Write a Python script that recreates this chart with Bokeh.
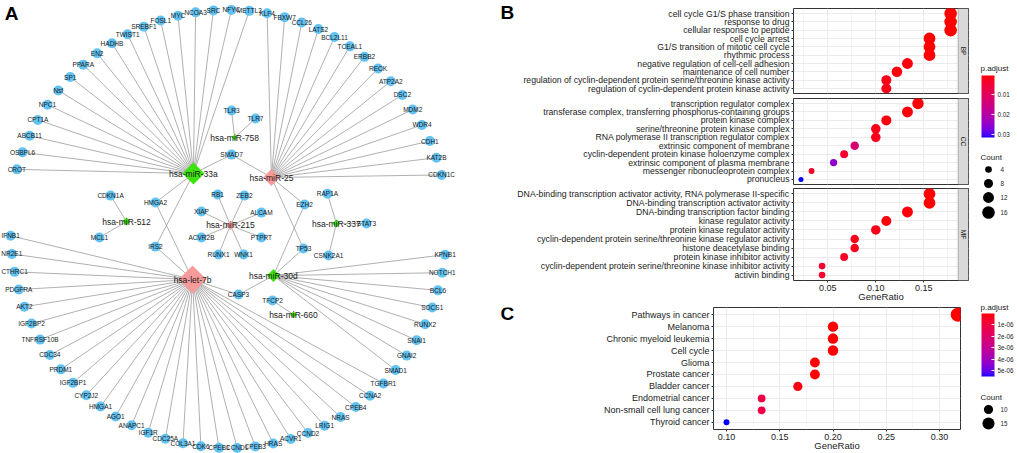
import math
from bokeh.plotting import figure
from bokeh.models import (ColumnDataSource, Range1d, FactorRange, FixedTicker, CategoricalTicker,
                          LinearColorMapper, ColorBar, BoxAnnotation, Label, Grid,
                          CustomJSTickFormatter)
from bokeh.layouts import row, column
from bokeh.embed import file_html
from bokeh.resources import INLINE
from bokeh.core.properties import value
from bokeh.transform import transform

FONT = "Liberation Sans"

# ======================= DATA =======================
# ---- Panel A: miRNA-target network ----
mirnas = ["hsa-miR-33a", "hsa-miR-25", "hsa-let-7b", "hsa-miR-30d", "hsa-miR-758",
          "hsa-miR-512", "hsa-miR-215", "hsa-miR-337", "hsa-miR-660"]
mirna_group = ["green", "pink", "pink", "green", "green", "green", "pink", "green", "green"]

targets_miR33a_outer = ["CROT", "OSBPL6", "ABCB11", "CPT1A", "NPC1", "Nsf", "SP1", "PPARA", "EN2",
                        "HADHB", "TWIST1", "SREBF1", "FOSL1", "MYC", "NCOA3", "SRC", "NFYC", "METTL3"]
targets_miR25_outer = ["KLF4", "FBXW7", "CCL26", "LATS2", "BCL2L11", "TCEAL1", "ERBB2", "RECK",
                       "ATP2A2", "DSC2", "MDM2", "WDR4", "CDH1", "KAT2B", "CDKN1C"]
targets_let7b_outer = ["IFNB1", "NR2E1", "CTHRC1", "PDGFRA", "AKT2", "IGF2BP2", "TNFRSF10B", "CDC34",
                       "PRDM1", "IGF2BP1", "CYP2J2", "HMGA1", "AGO1", "ANAPC1", "IGF1R", "CDC25A",
                       "COL3A1", "CDK6", "CPEB1", "CCND1", "CPEB3", "HRAS", "ACVR1", "CCND2",
                       "LRIG1", "NRAS", "CPEB4", "CCNA2", "TGFBR1"]
targets_miR30d_outer = ["SMAD1", "GNAI2", "SNAI1", "RUNX2", "SOCS1", "BCL6", "NOTCH1", "KPNB1"]
targets_miR33a_inner = ["SMAD7", "HMGA2", "IRS2"]
targets_miR25_inner = ["SMAD7", "EZH2", "TP53"]
targets_let7b_inner = ["HMGA2", "IRS2", "CASP3"]
targets_miR30d_inner = ["EZH2", "TP53", "CASP3"]
targets_miR758 = ["TLR3", "TLR7"]
targets_miR512 = ["CDKN1A", "MCL1"]
targets_miR215 = ["RB1", "ZEB2", "XIAP", "ALCAM", "ACVR2B", "PTPRT", "RUNX1", "WNK1"]
targets_miR337 = ["RAP1A", "STAT3", "CSNK2A1"]
targets_miR660 = ["TFCP2"]

# ---- Panel B: GO enrichment ----
bp_terms = ["cell cycle G1/S phase transition", "response to drug", "cellular response to peptide",
            "cell cycle arrest", "G1/S transition of mitotic cell cycle", "rhythmic process",
            "negative regulation of cell-cell adhesion", "maintenance of cell number",
            "regulation of cyclin-dependent protein serine/threonine kinase activity",
            "regulation of cyclin-dependent protein kinase activity"]
bp_ratio = [0.178, 0.178, 0.178, 0.156, 0.156, 0.156, 0.133, 0.122, 0.111, 0.111]
bp_count = [16, 16, 16, 14, 14, 14, 12, 11, 10, 10]
bp_padj = [0.0003, 0.0003, 0.0004, 0.0005, 0.0005, 0.0006, 0.0010, 0.0010, 0.0020, 0.0020]

cc_terms = ["transcription regulator complex",
            "transferase complex, transferring phosphorus-containing groups",
            "protein kinase complex", "serine/threonine protein kinase complex",
            "RNA polymerase II transcription regulator complex", "extrinsic component of membrane",
            "cyclin-dependent protein kinase holoenzyme complex",
            "extrinsic component of plasma membrane", "messenger ribonucleoprotein complex",
            "pronucleus"]
cc_ratio = [0.144, 0.133, 0.111, 0.100, 0.100, 0.078, 0.067, 0.056, 0.033, 0.022]
cc_count = [13, 12, 10, 9, 9, 7, 6, 5, 3, 2]
cc_padj = [0.0008, 0.0010, 0.0010, 0.0020, 0.0020, 0.0130, 0.0040, 0.0250, 0.0030, 0.0316]

mf_terms = ["DNA-binding transcription activator activity, RNA polymerase II-specific",
            "DNA-binding transcription activator activity", "DNA-binding transcription factor binding",
            "kinase regulator activity", "protein kinase regulator activity",
            "cyclin-dependent protein serine/threonine kinase regulator activity",
            "histone deacetylase binding", "protein kinase inhibitor activity",
            "cyclin-dependent protein serine/threonine kinase inhibitor activity", "activin binding"]
mf_ratio = [0.156, 0.156, 0.133, 0.111, 0.100, 0.078, 0.078, 0.067, 0.044, 0.044]
mf_count = [14, 14, 12, 10, 9, 7, 7, 6, 4, 4]
mf_padj = [0.0005, 0.0005, 0.0010, 0.0010, 0.0020, 0.0020, 0.0020, 0.0030, 0.0040, 0.0040]

go_x_ticks = [0.05, 0.10, 0.15]
go_padj_ticks = [0.01, 0.02, 0.03]
go_count_breaks = [4, 8, 12, 16]

# ---- Panel C: KEGG enrichment ----
kegg_terms = ["Pathways in cancer", "Melanoma", "Chronic myeloid leukemia", "Cell cycle", "Glioma",
              "Prostate cancer", "Bladder cancer", "Endometrial cancer",
              "Non-small cell lung cancer", "Thyroid cancer"]
kegg_ratio = [0.317, 0.200, 0.200, 0.200, 0.183, 0.183, 0.167, 0.133, 0.133, 0.100]
kegg_count = [19, 12, 12, 12, 11, 11, 10, 8, 8, 6]
kegg_padj = [1e-9, 2e-8, 2e-8, 3e-8, 4e-8, 4e-8, 1.5e-7, 1.1e-6, 1.1e-6, 5.5e-6]
kegg_x_ticks = [0.10, 0.15, 0.20, 0.25, 0.30]
kegg_padj_ticks = [1e-6, 2e-6, 3e-6, 4e-6, 5e-6]
kegg_count_breaks = [10, 15]

# ======================= STYLE / LAYOUT =======================
BLUE_NODE = "#62c2f2"
MIR_COLORS = {"green": "#3ee20c", "pink": "#f79a9a"}
MIR_DIAG = {"hsa-miR-33a": 22, "hsa-miR-25": 17, "hsa-let-7b": 28, "hsa-miR-30d": 13,
            "hsa-miR-758": 6, "hsa-miR-512": 8, "hsa-miR-215": 9, "hsa-miR-337": 8, "hsa-miR-660": 7}
TXT = "#1a1a1a"
BORDER = "#333333"
GRIDC = "#EBEBEB"

# network layout (outer ring radius ~100)
inner_pos = {
    "hsa-miR-33a": (-16.1, 25.9), "hsa-miR-25": (19.7, 24.1), "hsa-let-7b": (-16.5, -22.7),
    "hsa-miR-30d": (20.6, -20.9), "hsa-miR-758": (2.8, 42.4), "TLR3": (1.4, 54.8),
    "TLR7": (12.4, 51.2), "SMAD7": (1.4, 34.6), "hsa-miR-512": (-46.8, 3.9),
    "CDKN1A": (-54.1, 15.8), "MCL1": (-59.2, -3.4), "hsa-miR-215": (0.9, 2.1),
    "RB1": (-5.0, 16.3), "ZEB2": (7.3, 15.8), "XIAP": (-12.4, 8.5), "ALCAM": (15.1, 8.0),
    "ACVR2B": (-12.4, -3.4), "PTPRT": (15.1, -3.4), "RUNX1": (-4.6, -11.2), "WNK1": (6.9, -11.2),
    "HMGA2": (-33.5, 12.6), "IRS2": (-33.5, -7.6), "EZH2": (34.9, 11.7), "TP53": (34.4, -8.5),
    "CASP3": (4.6, -29.6), "hsa-miR-337": (49.5, 3.0), "RAP1A": (45.4, 16.7),
    "STAT3": (63.3, 3.0), "CSNK2A1": (45.9, -11.7), "hsa-miR-660": (29.8, -38.8),
    "TFCP2": (20.2, -32.3),
}
pos = dict(inner_pos)


def place_arc(names, a0, a1, r):
    n = len(names)
    for i, nm in enumerate(names):
        a = math.radians(a0 + (a1 - a0) * i / (n - 1))
        pos[nm] = (r * math.cos(a), r * math.sin(a))


place_arc(targets_miR33a_outer + targets_miR25_outer, 164.0, 14.5, 101.0)
place_arc(targets_let7b_outer + targets_miR30d_outer, 181.5, 353.5, 100.0)

edge_groups = [
    ("hsa-miR-33a", targets_miR33a_outer + targets_miR33a_inner),
    ("hsa-miR-25", targets_miR25_outer + targets_miR25_inner),
    ("hsa-let-7b", targets_let7b_outer + targets_let7b_inner),
    ("hsa-miR-30d", targets_miR30d_outer + targets_miR30d_inner),
    ("hsa-miR-758", targets_miR758), ("hsa-miR-512", targets_miR512),
    ("hsa-miR-215", targets_miR215), ("hsa-miR-337", targets_miR337),
    ("hsa-miR-660", targets_miR660),
]
ex0, ey0, ex1, ey1 = [], [], [], []
genes = []
for m, tl in edge_groups:
    for g in tl:
        ex0.append(pos[m][0]); ey0.append(pos[m][1])
        ex1.append(pos[g][0]); ey1.append(pos[g][1])
        if g not in genes:
            genes.append(g)

pA = figure(width=468, height=453, x_range=Range1d(-104.6, 110.1), y_range=Range1d(-102.5, 105.3),
            x_axis_location=None, y_axis_location=None, toolbar_location=None,
            output_backend="svg", min_border=0, outline_line_color=None)
pA.grid.visible = False
pA.segment(ex0, ey0, ex1, ey1, line_color="#9c9c9c", line_width=0.8)
gsrc = ColumnDataSource(dict(x=[pos[g][0] for g in genes], y=[pos[g][1] for g in genes], t=genes))
pA.scatter("x", "y", source=gsrc, marker="circle", size=10, fill_color=BLUE_NODE, line_color=None)
msrc = ColumnDataSource(dict(x=[pos[m][0] for m in mirnas], y=[pos[m][1] for m in mirnas], t=mirnas,
                             c=[MIR_COLORS[g] for g in mirna_group],
                             s=[MIR_DIAG[m] / math.sqrt(2) for m in mirnas]))
pA.scatter("x", "y", source=msrc, marker="square", angle=math.pi / 4, size="s", fill_color="c",
           line_color=None)
pA.text("x", "y", text="t", source=gsrc, text_font=value(FONT), text_font_size="6.5px",
        text_color=TXT, text_align="center", text_baseline="middle")
pA.text("x", "y", text="t", source=msrc, text_font=value(FONT), text_font_size="8.5px",
        text_color=TXT, text_align="center", text_baseline="middle")
pA.text([-99.5], [99.3], text=["A"], text_font=value(FONT), text_font_size="19px",
        text_font_style="bold", text_color="#000000", text_align="center", text_baseline="middle")


# ---------------- colour scale (ggplot red->blue, Lab interpolation) ----------------
def _lin(c):
    c = c / 255.0
    return c / 12.92 if c <= 0.04045 else ((c + 0.055) / 1.055) ** 2.4


def _gam(c):
    c = max(0.0, min(1.0, c))
    c = 12.92 * c if c <= 0.0031308 else 1.055 * c ** (1 / 2.4) - 0.055
    return int(round(max(0, min(255, c * 255))))


WP = (0.95047, 1.0, 1.08883)


def rgb2lab(rgb):
    r, g, b = (_lin(v) for v in rgb)
    X = 0.4124 * r + 0.3576 * g + 0.1805 * b
    Y = 0.2126 * r + 0.7152 * g + 0.0722 * b
    Z = 0.0193 * r + 0.1192 * g + 0.9505 * b

    def f(t):
        return t ** (1 / 3) if t > 0.008856 else 7.787 * t + 16 / 116
    fx, fy, fz = f(X / WP[0]), f(Y / WP[1]), f(Z / WP[2])
    return (116 * fy - 16, 500 * (fx - fy), 200 * (fy - fz))


def lab2hex(lab):
    L, a, b = lab
    fy = (L + 16) / 116
    fx = fy + a / 500
    fz = fy - b / 200

    def fi(t):
        return t ** 3 if t ** 3 > 0.008856 else (t - 16 / 116) / 7.787
    X, Y, Z = fi(fx) * WP[0], fi(fy) * WP[1], fi(fz) * WP[2]
    r = 3.2406 * X - 1.5372 * Y - 0.4986 * Z
    g = -0.9689 * X + 1.8758 * Y + 0.0415 * Z
    bb = 0.0557 * X - 0.2040 * Y + 1.0570 * Z
    return "#%02x%02x%02x" % (_gam(r), _gam(g), _gam(bb))


LR, LB = rgb2lab((255, 0, 0)), rgb2lab((0, 0, 255))
pal_red_blue = [lab2hex(tuple(LR[k] + (LB[k] - LR[k]) * i / 255 for k in range(3))) for i in range(256)]
pal_blue_red = pal_red_blue[::-1]

go_all_padj = bp_padj + cc_padj + mf_padj
mapper_go = LinearColorMapper(palette=pal_blue_red, low=max(go_all_padj), high=min(go_all_padj))
mapper_kegg = LinearColorMapper(palette=pal_blue_red, low=max(kegg_padj), high=min(kegg_padj))


def size_go(c):
    return math.sqrt(6 + 9.5 * c)


def size_kegg(c):
    return math.sqrt(max(12.3 * c - 38, 16))


def style_y(p, fs):
    ax = p.yaxis[0]
    ax.axis_line_color = None
    ax.major_tick_line_color = BORDER
    ax.major_tick_out = 2
    ax.major_tick_in = 0
    ax.minor_tick_line_color = None
    ax.major_label_text_font = FONT
    ax.major_label_text_font_size = fs
    ax.major_label_text_color = TXT
    ax.major_label_standoff = 2


def style_x(p, fs, ticks):
    ax = p.xaxis[0]
    ax.ticker = FixedTicker(ticks=ticks)
    ax.formatter = CustomJSTickFormatter(code="return tick.toFixed(2);")
    ax.axis_line_color = None
    ax.major_tick_line_color = BORDER
    ax.major_tick_out = 2
    ax.major_tick_in = 0
    ax.minor_tick_line_color = None
    ax.major_label_text_font = FONT
    ax.major_label_text_font_size = fs
    ax.major_label_text_color = TXT
    ax.major_label_standoff = 2
    ax.axis_label = "GeneRatio"
    ax.axis_label_text_font = FONT
    ax.axis_label_text_font_size = "9.5px"
    ax.axis_label_text_font_style = "normal"
    ax.axis_label_text_color = TXT
    ax.axis_label_standoff = -3


def add_grids(p, ticks):
    p.grid.visible = False
    minor = [(a + b) / 2 for a, b in zip(ticks[:-1], ticks[1:])]
    step = ticks[1] - ticks[0]
    minor = [ticks[0] - step / 2] + minor + [ticks[-1] + step / 2]
    p.add_layout(Grid(dimension=0, ticker=FixedTicker(ticks=ticks, minor_ticks=minor),
                      grid_line_color=GRIDC, grid_line_width=1.0,
                      minor_grid_line_color=GRIDC, minor_grid_line_width=0.5), "center")
    p.add_layout(Grid(dimension=1, ticker=CategoricalTicker(), grid_line_color=GRIDC,
                      grid_line_width=1.0), "center")
    p.outline_line_color = BORDER
    p.outline_line_width = 1


GO_XLO, GO_XHI = 0.0142, 0.1858
GO_XSTRIP = GO_XHI + (GO_XHI - GO_XLO) * 11 / 174
LETTER_W = 46


def go_facet(terms, ratio, count, padj, strip, height, top, bottom, show_x):
    src = ColumnDataSource(dict(term=terms, ratio=ratio, count=count, padj=padj,
                                size=[size_go(c) for c in count]))
    p = figure(width=502 - LETTER_W, height=height, x_range=Range1d(GO_XLO, GO_XSTRIP),
               y_range=FactorRange(factors=terms[::-1], range_padding=0.1,
                                   range_padding_units="absolute"),
               x_axis_location="below" if show_x else None, toolbar_location=None,
               output_backend="svg", min_border_left=315 - LETTER_W, min_border_right=2,
               min_border_top=top, min_border_bottom=bottom)
    add_grids(p, go_x_ticks)
    p.scatter("ratio", "term", source=src, size="size", fill_color=transform("padj", mapper_go),
              line_color=None)
    p.add_layout(BoxAnnotation(left=GO_XHI, fill_color="#D9D9D9", fill_alpha=1.0,
                               line_color=BORDER, line_width=1))
    p.add_layout(Label(x=(GO_XHI + GO_XSTRIP) / 2, y=len(terms) / 2, text=strip,
                       angle=-math.pi / 2, text_align="center", text_baseline="middle",
                       text_font=FONT, text_font_size="6.5px", text_color=TXT))
    style_y(p, "8.7px")
    if show_x:
        style_x(p, "9px", go_x_ticks)
    return p


pB1 = go_facet(bp_terms, bp_ratio, bp_count, bp_padj, "BP", 96, 8, 3, False)
pB2 = go_facet(cc_terms, cc_ratio, cc_count, cc_padj, "CC", 90, 2, 2, False)
pB3 = go_facet(mf_terms, mf_ratio, mf_count, mf_padj, "MF", 118, 2, 10, True)

# ---- Panel C figure ----
ksrc = ColumnDataSource(dict(term=kegg_terms, ratio=kegg_ratio, count=kegg_count, padj=kegg_padj,
                             size=[size_kegg(c) for c in kegg_count]))
pC = figure(width=502 - LETTER_W, height=149, x_range=Range1d(0.0878, 0.3197),
            y_range=FactorRange(factors=kegg_terms[::-1], range_padding=0.1,
                                range_padding_units="absolute"),
            toolbar_location=None, output_backend="svg", min_border_left=245 - LETTER_W,
            min_border_right=10, min_border_top=3, min_border_bottom=10)
add_grids(pC, kegg_x_ticks)
pC.scatter("ratio", "term", source=ksrc, size="size", fill_color=transform("padj", mapper_kegg),
           line_color=None)
style_y(pC, "9px")
style_x(pC, "9px", kegg_x_ticks)


# ---- panel letters B / C ----
def letter_fig(letter, y_top, y_bottom, y_text):
    p = figure(width=LETTER_W, height=y_bottom - y_top, x_range=Range1d(468, 468 + LETTER_W),
               y_range=Range1d(y_bottom, y_top), x_axis_location=None, y_axis_location=None,
               toolbar_location=None, output_backend="svg", min_border=0, outline_line_color=None)
    p.grid.visible = False
    p.text([500], [y_text], text=[letter], text_font=value(FONT), text_font_size="19px",
           text_font_style="bold", text_color="#000000", text_align="left",
           text_baseline="middle")
    return p


pLB = letter_fig("B", 0, 304, 12)
pLC = letter_fig("C", 304, 453, 311)

# ---- Legends column ----
pL = figure(width=47, height=453, x_range=Range1d(970, 1017), y_range=Range1d(453, 0),
            x_axis_location=None, y_axis_location=None, toolbar_location=None,
            output_backend="svg", min_border=0, outline_line_color=None)
pL.grid.visible = False


def legend_block(mapper, ticks, fmt, title_y, bar_top, bar_bottom, count_title_y, breaks, ys, sizer):
    pL.text([980], [title_y], text=["p.adjust"], text_font=value(FONT), text_font_size="8px",
            text_color=TXT, text_baseline="middle", text_align="left")
    cb = ColorBar(color_mapper=mapper, location=(11, 453 - bar_bottom), width=13,
                  height=bar_bottom - bar_top, padding=0, margin=0,
                  ticker=FixedTicker(ticks=ticks), formatter=fmt,
                  major_label_text_font=FONT, major_label_text_font_size="6.3px",
                  major_label_text_color=TXT, label_standoff=3,
                  major_tick_line_color="white", major_tick_in=3, major_tick_out=0,
                  minor_tick_line_color=None, bar_line_color=None, border_line_color=None,
                  background_fill_alpha=0.0)
    pL.add_layout(cb, "center")
    pL.text([980], [count_title_y], text=["Count"], text_font=value(FONT), text_font_size="8px",
            text_color=TXT, text_baseline="middle", text_align="left")
    pL.scatter([988] * len(breaks), ys, size=[sizer(c) for c in breaks], fill_color="black",
               line_color=None)
    pL.text([1000] * len(breaks), ys, text=[str(c) for c in breaks], text_font=value(FONT),
            text_font_size="6.3px", text_color=TXT, text_baseline="middle", text_align="left")


legend_block(mapper_go, go_padj_ticks, CustomJSTickFormatter(code="return tick.toFixed(2);"),
             68, 75, 137, 157, go_count_breaks, [169, 183, 197, 212], size_go)
legend_block(mapper_kegg, kegg_padj_ticks,
             CustomJSTickFormatter(code="return tick.toExponential(0).replace('e-', 'e-0');"),
             307, 313, 376, 397, kegg_count_breaks, [409, 423], size_kegg)

layout = row(pA,
             column(row(pLB, column(pB1, pB2, pB3)), row(pLC, pC)),
             pL)
open("out.html", "w").write(file_html(layout, INLINE))
